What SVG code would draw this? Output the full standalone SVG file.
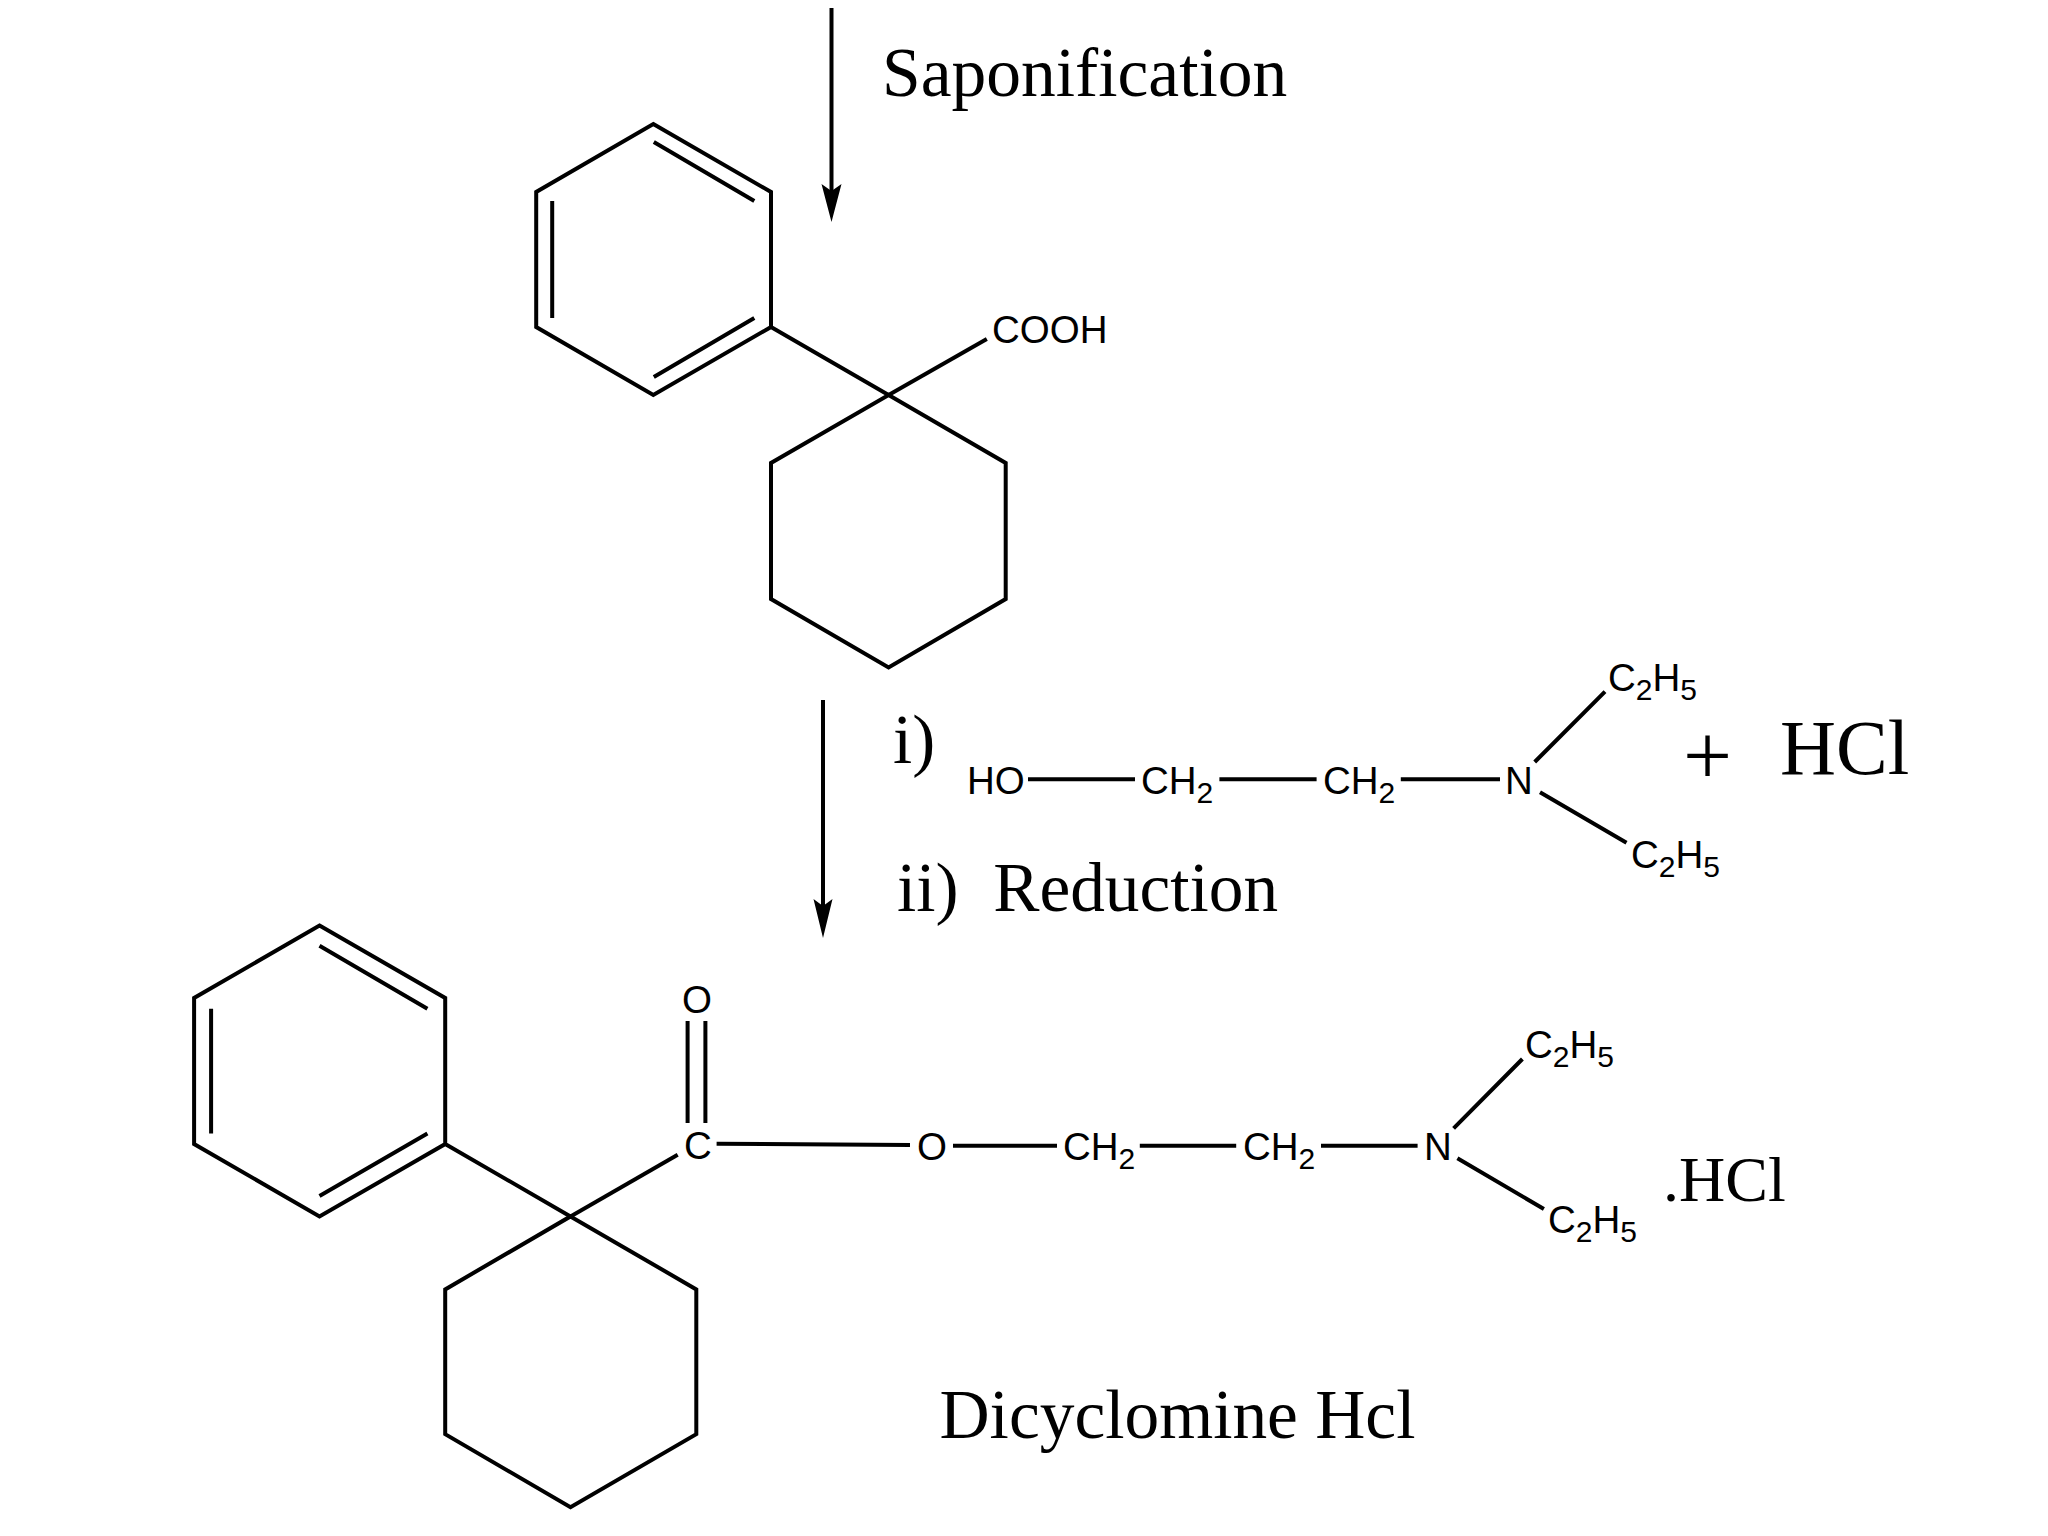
<svg xmlns="http://www.w3.org/2000/svg" width="2048" height="1536" viewBox="0 0 2048 1536">
<style>
.b{fill:none;stroke:#000;stroke-width:4;stroke-linejoin:miter}
.h{fill:#000;stroke:none}
.s{font-family:"Liberation Sans",Arial,sans-serif;font-size:38.500px;fill:#000}
.t{font-family:"Liberation Serif","Times New Roman",serif;fill:#000;white-space:pre}
.sub{font-size:30px}
</style>
<rect width="2048" height="1536" fill="#fff"/>
<g id="connectors">
<path class="b" d="M831.500 8V195"/><path class="h" d="M821.500 184L831.500 191 841.500 184 831.500 222Z"/>
<path class="b" d="M823 700V910"/><path class="h" d="M813.500 899L823 906 832.500 899 823 938Z"/>
<path class="b" d="M1028 779.300H1135M1219.400 779.300H1316.600M1400.800 779.300H1500M1534.700 762L1605 691.700M1540 792.300L1626.500 842.700"/>
<path class="b" d="M716.600 1143.800L910 1145M953 1145.700H1057M1139.800 1145.700H1236.200M1321 1145.700H1417.600M1453.600 1128.300L1522.400 1059M1457.400 1158.300L1543.900 1209"/>
<path class="b" d="M687.600 1020.900V1123M705.400 1020.900V1123"/>
<path class="b" d="M888.600 395L986.800 339"/>
<path class="b" d="M570.500 1216.400L677.700 1154.700"/>
</g>
<g id="phenyl-top"><path class="b" d="M653.300 124L771 192V327L653.300 395 536.200 327V192Z M653.800 142L754.300 201M552.200 201V318M754.300 318L653.800 377M771 327L888.600 395"/></g>
<g id="cyclohexane-top"><path class="b" d="M888.600 395L1005.700 463V599L888.600 667.400 771 599V463Z"/></g>
<g id="phenyl-bottom"><path class="b" d="M319.500 925.600L445.200 998V1144L319.500 1216.400 194.100 1144V998Z M319.500 945.800L427.400 1008.700M211.100 1008.700V1133.600M427.400 1133.600L319.500 1196M445.200 1144L570.500 1216.400"/></g>
<g id="cyclohexane-bottom"><path class="b" d="M570.500 1216.400L696.300 1289.400V1434.200L570.500 1507.200 445.200 1434.200V1289.400Z"/></g>
<g id="label-saponification"><text class="t" x="882" y="95.500" font-size="69.500">Saponification</text></g>
<g id="label-cooh"><text class="s" x="992" y="343">COOH</text></g>
<g id="label-i"><text class="t" x="893" y="763" font-size="69">i)</text></g>
<g id="label-ii"><text class="t" x="897" y="911" font-size="69.300">ii)  Reduction</text></g>
<g id="reagent">
<text class="s" x="967" y="794">HO</text>
<text class="s" x="1141" y="794">CH<tspan class="sub" dy="8.500">2</tspan></text>
<text class="s" x="1323" y="794">CH<tspan class="sub" dy="8.500">2</tspan></text>
<text class="s" x="1505" y="794">N</text>
<text class="s" x="1608" y="691">C<tspan class="sub" dy="8.500">2</tspan><tspan dy="-8.500">H</tspan><tspan class="sub" dy="8.500">5</tspan></text>
<text class="s" x="1631" y="868">C<tspan class="sub" dy="8.500">2</tspan><tspan dy="-8.500">H</tspan><tspan class="sub" dy="8.500">5</tspan></text>
</g>
<g id="label-plus"><text class="t" x="1683" y="785" font-size="87">+</text></g>
<g id="label-hcl"><text class="t" x="1780" y="774" font-size="77.500">HCl</text></g>
<g id="product">
<text class="s" x="682" y="1013">O</text>
<text class="s" x="684" y="1159">C</text>
<text class="s" x="917" y="1160">O</text>
<text class="s" x="1063" y="1160">CH<tspan class="sub" dy="8.500">2</tspan></text>
<text class="s" x="1243" y="1160">CH<tspan class="sub" dy="8.500">2</tspan></text>
<text class="s" x="1424" y="1160">N</text>
<text class="s" x="1525" y="1058">C<tspan class="sub" dy="8.500">2</tspan><tspan dy="-8.500">H</tspan><tspan class="sub" dy="8.500">5</tspan></text>
<text class="s" x="1548" y="1233">C<tspan class="sub" dy="8.500">2</tspan><tspan dy="-8.500">H</tspan><tspan class="sub" dy="8.500">5</tspan></text>
</g>
<g id="label-dothcl"><text class="t" x="1663" y="1201" font-size="64">.HCl</text></g>
<g id="label-name"><text class="t" x="939.500" y="1438" font-size="69.400">Dicyclomine Hcl</text></g>
</svg>
